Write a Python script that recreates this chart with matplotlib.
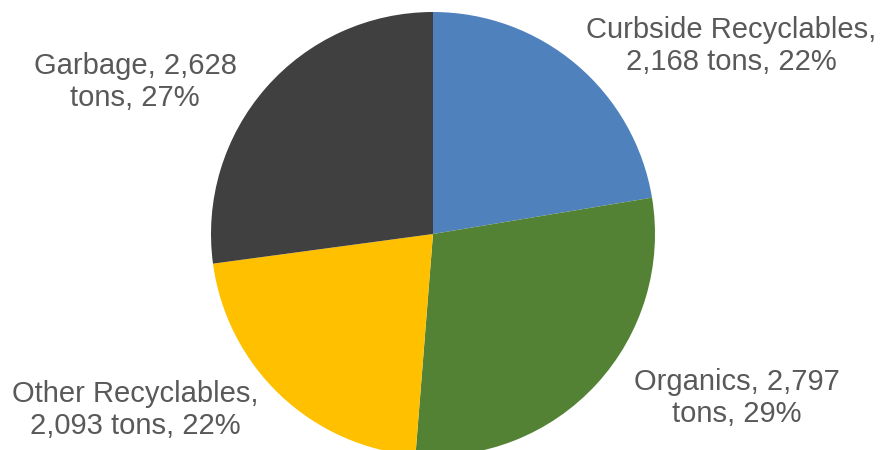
import matplotlib
matplotlib.use("Agg")
import matplotlib.pyplot as plt

# data
categories = ["Curbside Recyclables", "Organics", "Other Recyclables", "Garbage"]
tons = [2168, 2797, 2093, 2628]
colors = ["#4F81BD", "#548235", "#FFC000", "#404040"]

# where each label wraps: 1 = after the name, 2 = after the tonnage
label_breaks = [1, 2, 1, 2]
label_pos = [(731, 46), (737, 398), (135, 410), (135, 82)]

plt.rcParams["font.family"] = ["Liberation Sans", "DejaVu Sans"]

fig = plt.figure(figsize=(8.81, 4.5), dpi=100)
ax = fig.add_axes([0, 0, 1, 1])

ax.pie(tons, colors=colors, startangle=90, counterclock=False,
       center=(433, 450 - 234), radius=222,
       wedgeprops=dict(linewidth=0))
ax.set_xlim(0, 881)
ax.set_ylim(0, 450)
ax.set_aspect("equal")
ax.axis("off")

total = sum(tons)
for name, val, brk, (x, y) in zip(categories, tons, label_breaks, label_pos):
    pct = round(100 * val / total)
    if brk == 1:
        txt = f"{name},\n{val:,} tons, {pct}%"
    else:
        txt = f"{name}, {val:,}\ntons, {pct}%"
    ax.text(x, 450 - y, txt, ha="center", va="center", fontsize=21,
            color="#595959", linespacing=1.17)

fig.savefig("out.png", dpi=100)
